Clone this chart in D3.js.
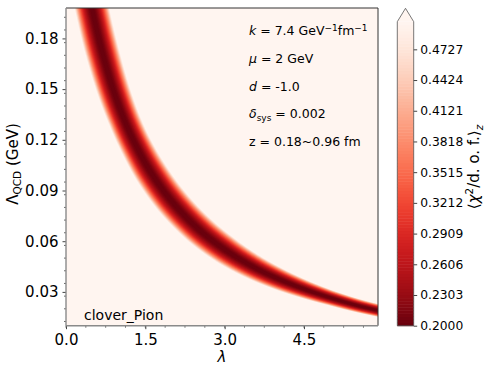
<!DOCTYPE html>
<html>
<head>
<meta charset="utf-8">
<script src="https://cdn.jsdelivr.net/npm/d3@7"></script>
<style>
  body { margin: 0; background: #fff; }
  svg { font-family: "DejaVu Sans", sans-serif; }
</style>
</head>
<body>
<div id="chart"></div>
<script>
// valley (chi2 minimum), first/last points are estimated past the frame
const valleyLambda = [0.40, 0.51, 0.66, 0.89, 1.10, 1.30, 1.60, 2.00, 2.50, 3.00, 3.50, 4.00, 4.50, 5.00, 5.50, 5.90, 6.30];
const valleyLQCD   = [0.212, 0.195, 0.175, 0.150, 0.132, 0.118, 0.101, 0.0836, 0.0673, 0.0551, 0.0455, 0.0379, 0.0317, 0.0265, 0.0220, 0.0190, 0.0162];
// half width of the band (chi2 < 0.5), perpendicular to the valley, in lambda units
const bandHalfWidth = [0.32, 0.32, 0.32, 0.31, 0.30, 0.30, 0.31, 0.31, 0.30, 0.28, 0.245, 0.21, 0.175, 0.145, 0.128, 0.119, 0.115];

const xTicks = [0.0, 1.5, 3.0, 4.5];
const yTicks = [0.03, 0.06, 0.09, 0.12, 0.15, 0.18];
const vmin = 0.2, vmax = 0.5;
const levels = d3.range(100).map(i => vmin + i * (vmax - vmin) / 99);
const cbTicks = levels.filter((d, i) => i % 10 === 0);

const notes = [
	[{t: 'k', i: true}, {t: ' = 7.4 GeV'}, {t: '−1', sup: true}, {t: 'fm'}, {t: '−1', sup: true}],
	[{t: 'μ', i: true}, {t: ' = 2 GeV'}],
	[{t: 'd', i: true}, {t: ' = -1.0'}],
	[{t: 'δ', i: true}, {t: 'sys', sub: true}, {t: ' = 0.002'}],
	[{t: 'z = 0.18~0.96 fm'}]
];

const W = 491, H = 370;
const m = {left: 66, top: 8, right: 378, bottom: 325.7};

const svg = d3.select('#chart').append('svg')
	.attr('width', W).attr('height', H);

const x = d3.scaleLinear().domain([0, 5.9]).range([m.left, m.right]);
const y = d3.scaleLinear().domain([0.01, 0.198]).range([m.bottom, m.top]);
const color = v => d3.interpolateReds(1 - (v - vmin) / (vmax - vmin));

svg.append('clipPath').attr('id', 'clip')
	.append('rect')
	.attr('x', m.left).attr('y', m.top)
	.attr('width', m.right - m.left).attr('height', m.bottom - m.top);

const plot = svg.append('g').attr('clip-path', 'url(#clip)');

// background = 'over' colour
plot.append('rect')
	.attr('x', m.left).attr('y', m.top)
	.attr('width', m.right - m.left).attr('height', m.bottom - m.top)
	.attr('fill', color(vmax));

// centre line of the valley
const valley = valleyLambda.map((l, i) => [l, valleyLQCD[i]]);
const line = d3.line()
	.x(d => x(d[0]))
	.y(d => y(d[1]))
	.curve(d3.curveCatmullRom);

const guide = svg.append('path')
	.attr('d', line(valley))
	.attr('fill', 'none')
	.attr('stroke', 'none');

const widthAt = d3.scaleLinear().domain(valleyLambda).range(bandHalfWidth);
const pxPerLambda = x(1) - x(0);

const node = guide.node();
const len = node.getTotalLength();
const samples = [];
for (let s = 0; s <= len; s += 1) {
	const p = node.getPointAtLength(s);
	const a = node.getPointAtLength(Math.max(0, s - 2));
	const b = node.getPointAtLength(Math.min(len, s + 2));
	const dx = b.x - a.x, dy = b.y - a.y;
	const n = Math.hypot(dx, dy) || 1;
	samples.push({
		x: p.x, y: p.y,
		nx: -dy / n, ny: dx / n,
		w: widthAt(x.invert(p.x)) * pxPerLambda
	});
}

// contour bands, outermost first
const bandLevels = levels.slice(1).reverse();
plot.selectAll('.band')
	.data(bandLevels)
	.enter().append('path')
	.attr('class', 'band')
	.attr('d', v => {
		const f = Math.sqrt((v - vmin) / (vmax - vmin));
		const left = samples.map(p => [p.x + p.nx * p.w * f, p.y + p.ny * p.w * f]);
		const right = samples.map(p => [p.x - p.nx * p.w * f, p.y - p.ny * p.w * f]).reverse();
		return 'M' + left.concat(right).map(p => p.join(',')).join('L') + 'Z';
	})
	.attr('fill', v => color(v - (vmax - vmin) / 198));

// axes
const xAxis = d3.axisBottom(x).tickValues(xTicks).tickFormat(d3.format('.1f')).tickSizeOuter(0).tickSize(3.5).tickPadding(5);
const yAxis = d3.axisLeft(y).tickValues(yTicks).tickFormat(d3.format('.2f')).tickSizeOuter(0).tickSize(3.5).tickPadding(4);

const gx = svg.append('g').attr('transform', `translate(0,${m.bottom})`).call(xAxis);
const gy = svg.append('g').attr('transform', `translate(${m.left},0)`).call(yAxis);
[gx, gy].forEach(g => {
	g.select('.domain').remove();
	g.selectAll('text').attr('font-size', 15).attr('fill', '#000').attr('font-family', 'DejaVu Sans');
	g.selectAll('line').attr('stroke', '#444');
});

// minor ticks
svg.append('g').selectAll('line')
	.data(d3.range(0, 5.9, 0.375))
	.enter().append('line')
	.attr('x1', d => x(d)).attr('x2', d => x(d))
	.attr('y1', m.bottom).attr('y2', m.bottom + 2)
	.attr('stroke', '#444').attr('stroke-width', 0.8);
svg.append('g').selectAll('line')
	.data(d3.range(0.0125, 0.198, 0.0075))
	.enter().append('line')
	.attr('x1', m.left - 2).attr('x2', m.left)
	.attr('y1', d => y(d)).attr('y2', d => y(d))
	.attr('stroke', '#444').attr('stroke-width', 0.8);

// frame
svg.append('line').attr('x1', m.left).attr('x2', m.right).attr('y1', m.top).attr('y2', m.top).attr('stroke', '#333');
svg.append('line').attr('x1', m.right).attr('x2', m.right).attr('y1', m.top).attr('y2', m.bottom).attr('stroke', '#333');
svg.append('line').attr('x1', m.left).attr('x2', m.left).attr('y1', m.top).attr('y2', m.bottom).attr('stroke', '#8a8a8a').attr('stroke-width', 1.4);
svg.append('line').attr('x1', m.left).attr('x2', m.right).attr('y1', m.bottom).attr('y2', m.bottom).attr('stroke', '#8a8a8a').attr('stroke-width', 1.4);

// axis labels
svg.append('text')
	.attr('x', (m.left + m.right) / 2).attr('y', 362)
	.attr('text-anchor', 'middle').attr('font-size', 15).attr('font-style', 'italic')
	.text('λ');

const yl = svg.append('text')
	.attr('transform', 'translate(18,164) rotate(-90)')
	.attr('text-anchor', 'middle').attr('font-size', 15);
yl.append('tspan').text('Λ');
yl.append('tspan').attr('font-size', 10.5).attr('dy', 3).text('QCD');
yl.append('tspan').attr('dy', -3).text(' (GeV)');

// panel tag
svg.append('text')
	.attr('x', 84).attr('y', 320)
	.attr('font-size', 14)
	.text('clover_Pion');

// parameter notes
notes.forEach((parts, i) => {
	const t = svg.append('text')
		.attr('x', 249).attr('y', 35 + i * 27.8)
		.attr('font-size', 12.5);
	parts.forEach(p => {
		const s = t.append('tspan').text(p.t);
		if (p.i) s.attr('font-style', 'italic');
		if (p.sup) s.attr('font-size', 9).attr('baseline-shift', '4.5');
		if (p.sub) s.attr('font-size', 9).attr('baseline-shift', '-3');
	});
});

// colour bar
const cb = {x: 397.3, w: 16.4, top: 21.7, tip: 8.3};
const cy = d3.scaleLinear().domain([vmin, vmax]).range([m.bottom, cb.top]);

svg.append('g').selectAll('rect')
	.data(levels.slice(0, -1))
	.enter().append('rect')
	.attr('x', cb.x).attr('width', cb.w)
	.attr('y', (d, i) => cy(levels[i + 1]))
	.attr('height', (d, i) => cy(d) - cy(levels[i + 1]) + 0.5)
	.attr('fill', (d, i) => color((d + levels[i + 1]) / 2));

svg.append('path')
	.attr('d', `M${cb.x},${cb.top}L${cb.x + cb.w / 2},${cb.tip}L${cb.x + cb.w},${cb.top}Z`)
	.attr('fill', color(vmax));

svg.append('path')
	.attr('d', `M${cb.x},${m.bottom}L${cb.x},${cb.top}L${cb.x + cb.w / 2},${cb.tip}L${cb.x + cb.w},${cb.top}L${cb.x + cb.w},${m.bottom}Z`)
	.attr('fill', 'none').attr('stroke', '#555').attr('stroke-width', 0.8);

const cAxis = d3.axisRight(cy).tickValues(cbTicks).tickFormat(d3.format('.4f')).tickSize(3.5).tickPadding(3);
const gc = svg.append('g').attr('transform', `translate(${cb.x + cb.w},0)`).call(cAxis);
gc.select('.domain').remove();
gc.selectAll('text').attr('font-size', 12.3).attr('fill', '#000').attr('font-family', 'DejaVu Sans');
gc.selectAll('line').attr('stroke', '#444');

const cl = svg.append('text')
	.attr('transform', 'translate(479,167) rotate(-90)')
	.attr('text-anchor', 'middle').attr('font-size', 15);
cl.append('tspan').text('⟨');
cl.append('tspan').attr('font-style', 'italic').text('χ');
cl.append('tspan').attr('font-size', 10.5).attr('baseline-shift', '6').text('2');
cl.append('tspan').text('/d. o. f.⟩');
cl.append('tspan').attr('font-size', 10.5).attr('baseline-shift', '-4').attr('font-style', 'italic').text('z');
</script>
</body>
</html>
